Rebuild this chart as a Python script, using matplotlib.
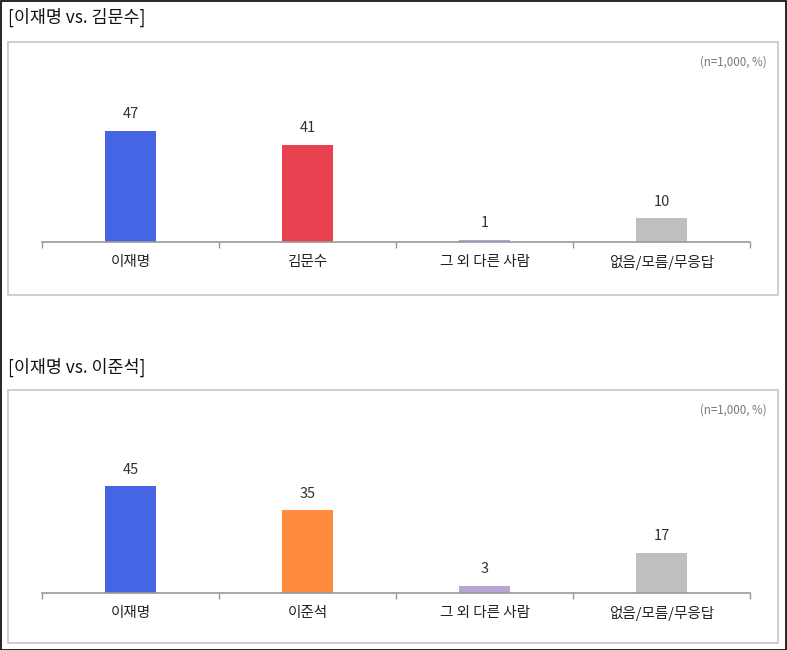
import matplotlib.pyplot as plt
from matplotlib.patches import Rectangle

plt.rcParams['font.family'] = ['Noto Sans CJK KR', 'DejaVu Sans']

titles = ['[이재명 vs. 김문수]', '[이재명 vs. 이준석]']
labels1 = ['이재명', '김문수', '그 외 다른 사람', '없음/모름/무응답']
values1 = [47, 41, 1, 10]
colors1 = ['#4565E5', '#E8414F', '#B9A3D3', '#BFBFBF']
labels2 = ['이재명', '이준석', '그 외 다른 사람', '없음/모름/무응답']
values2 = [45, 35, 3, 17]
colors2 = ['#4565E5', '#FF8C3C', '#B9A3D3', '#BFBFBF']
note = '(n=1,000, %)'

W, H = 787, 650
fig = plt.figure(figsize=(W / 100, H / 100), dpi=100)

# outer black frame
fig.patches.append(Rectangle((0.5 / W, 0.5 / H), (W - 1.5) / W, (H - 1.5) / H,
                             transform=fig.transFigure, fill=False,
                             edgecolor='black', linewidth=1.2))

panels = [
    (titles[0], labels1, values1, colors1, 17, 42, 295, 242),
    (titles[1], labels2, values2, colors2, 367, 390, 643, 593),
]

for title, labels, values, colors, ty, box_top, box_bot, base in panels:
    fig.text(8 / W, 1 - ty / H, title, fontsize=12.5, va='center', ha='left',
             color='#111111')
    fig.patches.append(Rectangle((8 / W, 1 - box_bot / H), 770 / W,
                                 (box_bot - box_top) / H,
                                 transform=fig.transFigure, fill=False,
                                 edgecolor='#CCCCCC', linewidth=1.3))
    fig.text(767 / W, 1 - (box_top + 20) / H, note, fontsize=8.3,
             ha='right', va='center', color='#777777')

    ax_h = 182
    ax = fig.add_axes([42 / W, 1 - base / H, 708 / W, ax_h / H])
    ax.set_xlim(-0.5, 3.5)
    ax.set_ylim(0, ax_h / 2.37)
    x = range(len(values))
    ax.bar(x, values, width=0.29, color=colors)
    for xi, v in zip(x, values):
        ax.text(xi, v + 4, str(v), ha='center', va='bottom', fontsize=10.5,
                color='#333333')
    for s in ['top', 'right', 'left']:
        ax.spines[s].set_visible(False)
    ax.spines['bottom'].set_color('#999999')
    ax.spines['bottom'].set_linewidth(1.2)
    ax.set_yticks([])
    ax.set_xticks([-0.5, 0.5, 1.5, 2.5, 3.5], minor=False)
    ax.set_xticklabels([])
    ax.tick_params(axis='x', length=4, color='#999999', width=1)
    for xi, lab in zip(x, labels):
        ax.text(xi, -8.5, lab, ha='center', va='center', fontsize=10.5,
                color='#222222')

plt.savefig('out.png', dpi=100)
